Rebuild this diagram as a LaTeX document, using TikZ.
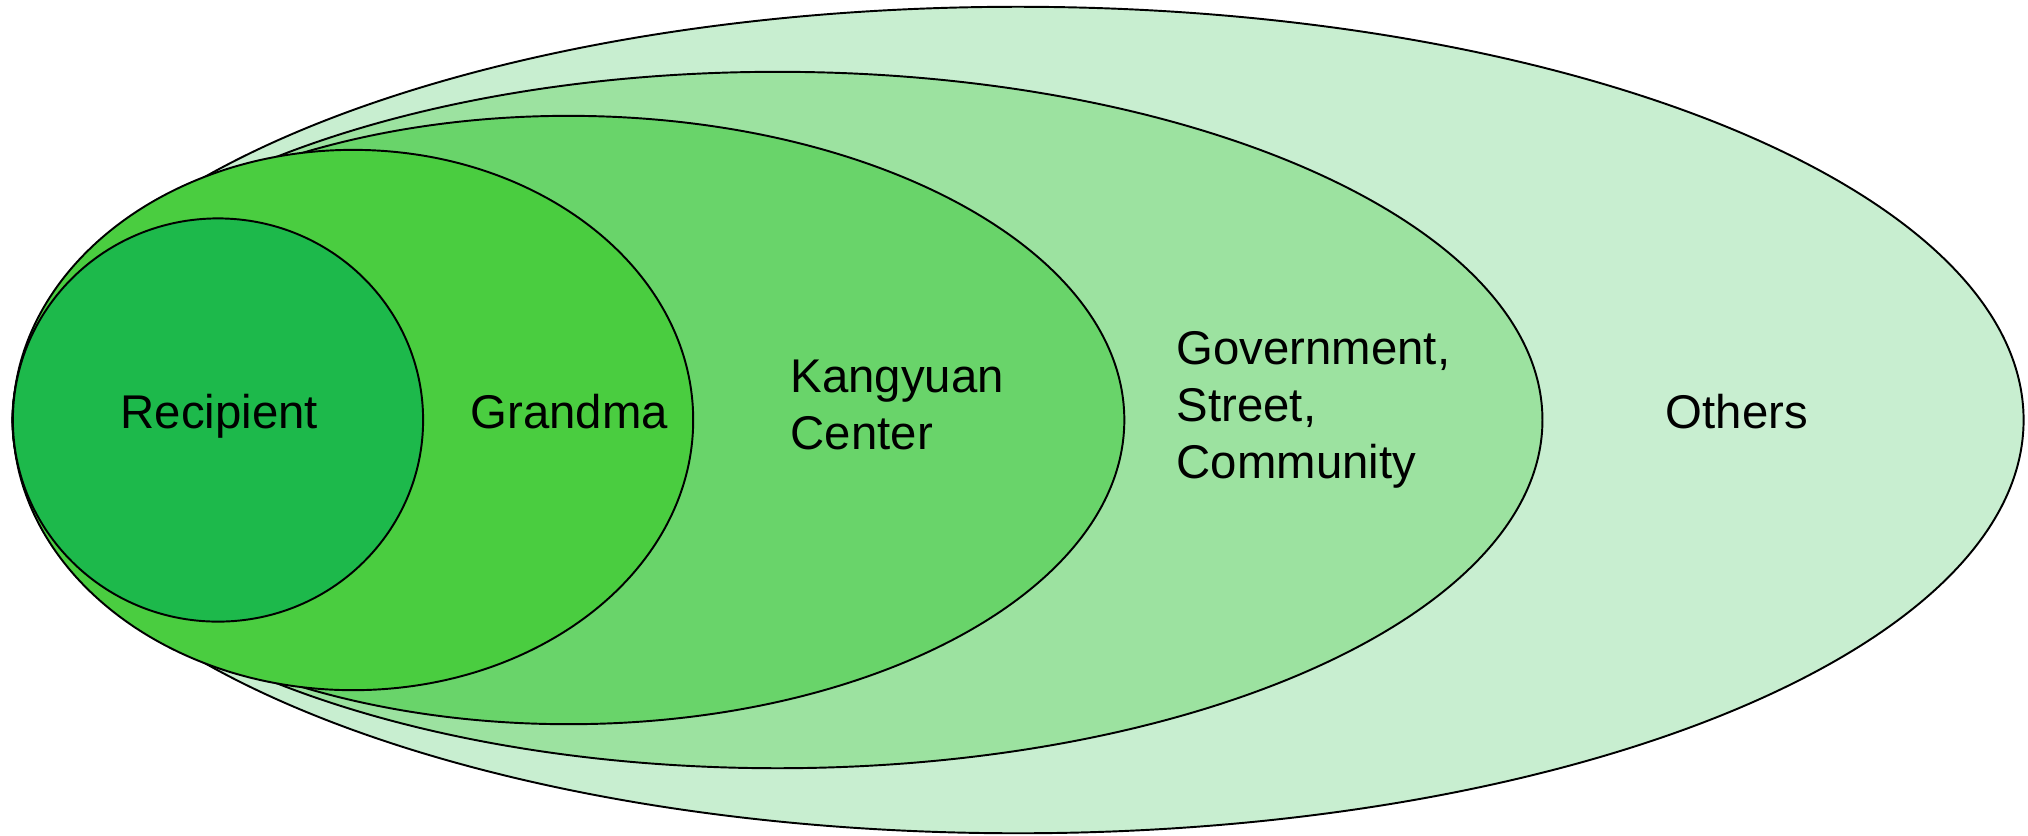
\documentclass[tikz,border=0pt]{standalone}
\usepackage{fontspec}
\setmainfont{Liberation Sans}
\usetikzlibrary{shapes,positioning}
\definecolor{ringA}{RGB}{29,185,75}
\definecolor{ringB}{RGB}{74,205,64}
\definecolor{ringC}{RGB}{105,212,106}
\definecolor{ringD}{RGB}{156,226,160}
\definecolor{ringE}{RGB}{200,238,208}
\begin{document}
\begin{tikzpicture}[x=0.01cm,y=-0.01cm,
        ring/.style={draw=black,line width=.55pt,ellipse,inner sep=0pt},
        lbl/.style={inner sep=0pt,anchor=base west,align=left,font=\fontsize{13.46pt}{16.2pt}\selectfont}]
            \useasboundingbox (0,0) rectangle (2028,835);

            \node[ring,fill=ringE,minimum width=20.10cm,minimum height=8.26cm] (others)    at (1018,420) {};
            \node[ring,fill=ringD,minimum width=15.29cm,minimum height=6.96cm] (gov)       at (777.5,420) {};
            \node[ring,fill=ringC,minimum width=11.11cm,minimum height=6.08cm] (kangyuan)  at (568.5,420) {};
            \node[ring,fill=ringB,minimum width=6.80cm,minimum height=5.40cm]  (grandma)   at (353,420) {};
            \node[ring,fill=ringA,minimum width=4.10cm,minimum height=4.03cm]  (recipient) at (218,420) {};

            % base of a two or three line label is its last line
            \node[lbl] (t-recipient) at (120,428)  {Recipient};
            \node[lbl] (t-grandma)   at (470,428)  {Grandma};
            \node[lbl] (t-kangyuan)  at (790,449)  {Kangyuan\\Center};
            \node[lbl] (t-gov)       at (1176,478) {Government,\\Street,\\Community};
            \node[lbl] (t-others)    at (1665,428) {Others};
        \end{tikzpicture}
\end{document}
